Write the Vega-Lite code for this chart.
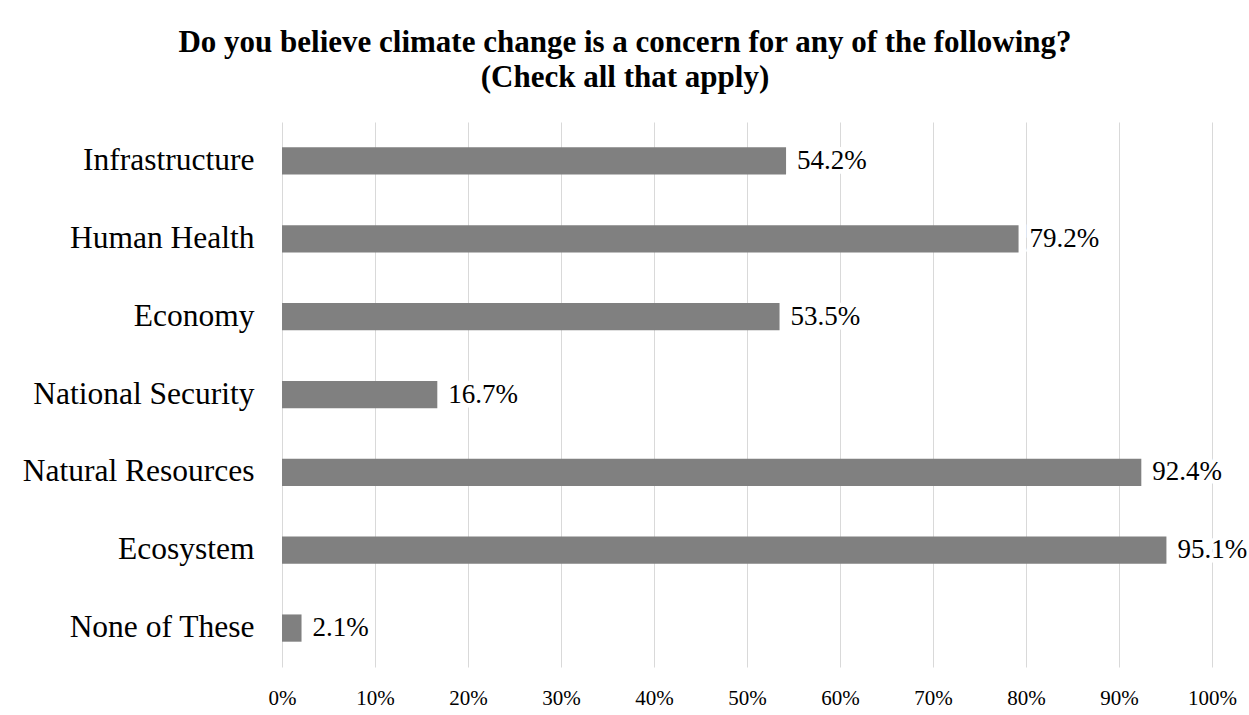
{
  "$schema": "https://vega.github.io/schema/vega-lite/v6.json",
  "width": 930,
  "height": 545,
  "autosize": {"type": "none"},
  "padding": {"left": 282, "top": 122, "right": 37, "bottom": 48},
  "background": "white",
  "title": {
    "text": ["Do you believe climate change is a concern for any of the following?", "(Check all that apply)"],
    "font": "'Liberation Serif', 'Times New Roman', serif",
    "fontSize": 31,
    "fontWeight": "bold",
    "color": "#000000",
    "anchor": "middle",
    "dx": -122,
    "lineHeight": 35,
    "offset": 28
  },
  "data": {
    "values": [
      {"category": "Infrastructure", "share": 0.542},
      {"category": "Human Health", "share": 0.792},
      {"category": "Economy", "share": 0.535},
      {"category": "National Security", "share": 0.167},
      {"category": "Natural Resources", "share": 0.924},
      {"category": "Ecosystem", "share": 0.951},
      {"category": "None of These", "share": 0.021}
    ]
  },
  "encoding": {
    "y": {
      "field": "category",
      "type": "nominal",
      "sort": null,
      "scale": {"paddingInner": 0.65, "paddingOuter": 0.325},
      "axis": {
        "title": null,
        "domain": false,
        "ticks": false,
        "labelFont": "'Liberation Serif', 'Times New Roman', serif",
        "labelFontSize": 31.5,
        "labelColor": "#000000",
        "labelPadding": 28,
        "labelLimit": 400
      }
    },
    "x": {
      "field": "share",
      "type": "quantitative",
      "scale": {"domain": [0, 1], "nice": false},
      "axis": {
        "title": null,
        "format": ".0%",
        "values": [0, 0.1, 0.2, 0.3, 0.4, 0.5, 0.6, 0.7, 0.8, 0.9, 1],
        "domain": false,
        "ticks": false,
        "grid": true,
        "gridColor": "#d9d9d9",
        "gridWidth": 1,
        "labelFlush": false,
        "labelFont": "'Liberation Serif', 'Times New Roman', serif",
        "labelFontSize": 21,
        "labelColor": "#000000",
        "labelPadding": 20
      }
    }
  },
  "layer": [
    {"mark": {"type": "bar", "color": "#808080"}},
    {
      "mark": {
        "type": "text",
        "align": "left",
        "baseline": "middle",
        "dx": 11,
        "font": "'Liberation Serif', 'Times New Roman', serif",
        "fontSize": 27,
        "fill": "white",
        "stroke": "white",
        "strokeWidth": 9
      },
      "encoding": {"text": {"field": "share", "type": "quantitative", "format": ".1%"}}
    },
    {
      "mark": {
        "type": "text",
        "align": "left",
        "baseline": "middle",
        "dx": 11,
        "font": "'Liberation Serif', 'Times New Roman', serif",
        "fontSize": 27,
        "color": "#000000"
      },
      "encoding": {"text": {"field": "share", "type": "quantitative", "format": ".1%"}}
    }
  ],
  "config": {"view": {"stroke": null}}
}
